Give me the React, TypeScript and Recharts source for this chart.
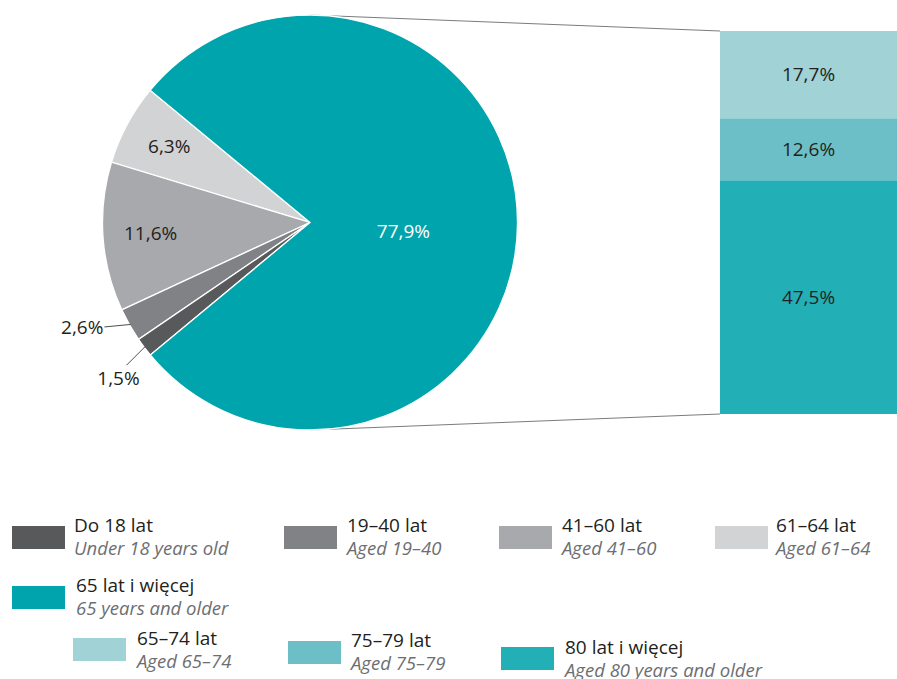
import React from 'react';
import { PieChart, Pie, Cell, BarChart, Bar, XAxis, YAxis, LabelList } from 'recharts';

// ---- data ----
const pieCategories = ['61–64 lat', '41–60 lat', '19–40 lat', 'Do 18 lat', '65 lat i więcej'];
const pieValues = [6.3, 11.6, 2.6, 1.5, 77.9];

const barCategories = ['80 lat i więcej', '75–79 lat', '65–74 lat'];
const barValues = [47.5, 12.6, 17.7];

const legendTitles = ['Do 18 lat', '19–40 lat', '41–60 lat', '61–64 lat', '65 lat i więcej', '65–74 lat', '75–79 lat', '80 lat i więcej'];
const legendSubtitles = ['Under 18 years old', 'Aged 19–40', 'Aged 41–60', 'Aged 61–64', '65 years and older', 'Aged 65–74', 'Aged 75–79', 'Aged 80 years and older'];

// ---- styles ----
const FONT = '"Open Sans", "Noto Sans", sans-serif';
const colorByName: Record<string, string> = {
  'Do 18 lat': '#58595B',
  '19–40 lat': '#808285',
  '41–60 lat': '#A7A9AC',
  '61–64 lat': '#D1D3D4',
  '65 lat i więcej': '#00A4AD',
  '65–74 lat': '#A0D2D6',
  '75–79 lat': '#6CBFC6',
  '80 lat i więcej': '#23AFB6',
};
const legendLayout = [
  { sx: 12, sy: 526, tx: 74, ty: 532 },
  { sx: 284, sy: 526, tx: 347, ty: 532 },
  { sx: 499, sy: 526, tx: 562, ty: 532 },
  { sx: 715, sy: 526, tx: 776, ty: 532 },
  { sx: 12, sy: 586, tx: 76, ty: 592 },
  { sx: 73, sy: 638, tx: 137, ty: 645 },
  { sx: 288, sy: 641, tx: 351, ty: 647 },
  { sx: 501, sy: 647, tx: 565, ty: 654 },
];

const PIE_CX = 310;
const PIE_CY = 222.5;
const PIE_R = 207.5;
const BAR_LEFT = 720;
const BAR_W = 177;
const CHART_H = 440;
const BAR_MARGIN = { top: 31, bottom: 26, left: 0, right: 0 };

const fmt = (v: number) => v.toFixed(1).replace('.', ',') + '%';

const pieData = pieCategories.map((name, i) => ({ name, value: pieValues[i] }));
const barRow: Record<string, any> = { name: '65+' };
barCategories.forEach((c, i) => { barRow['s' + i] = barValues[i]; });
const barData = [barRow];
const barTotal = barValues.reduce((a, b) => a + b, 0);

const RAD = Math.PI / 180;
const polar = (cx: number, cy: number, r: number, a: number) => ({ x: cx + r * Math.cos(-a * RAD), y: cy + r * Math.sin(-a * RAD) });

const renderPieLabel = (props: any) => {
  const { cx, cy, midAngle, outerRadius, index, value } = props;
  const text = fmt(value);
  const common = { fontFamily: FONT, fontSize: 19 };
  if (value > 50) {
    return (
      <text key={'l' + index} x={cx + outerRadius * 0.45} y={cy + 15} textAnchor="middle" fill="#FFFFFF" {...common}>{text}</text>
    );
  }
  if (value > 5) {
    const p = polar(cx, cy, outerRadius * 0.77, midAngle);
    return (
      <text key={'l' + index} x={p.x} y={p.y + 6.5} textAnchor="middle" fill="#231F20" {...common}>{text}</text>
    );
  }
  const a = polar(cx, cy, outerRadius - 1, midAngle);
  if (value > 2) {
    const e = { x: a.x - 26, y: a.y + 2.5 };
    return (
      <g key={'l' + index}>
        <line x1={a.x} y1={a.y} x2={e.x} y2={e.y} stroke="#231F20" strokeWidth={0.8} />
        <text x={e.x - 1} y={e.y + 7} textAnchor="end" fill="#231F20" {...common}>{text}</text>
      </g>
    );
  }
  const e = { x: a.x - 18.5, y: a.y + 18.5 };
  return (
    <g key={'l' + index}>
      <line x1={a.x} y1={a.y} x2={e.x} y2={e.y} stroke="#231F20" strokeWidth={0.8} />
      <text x={e.x - 8} y={e.y + 20} textAnchor="middle" fill="#231F20" {...common}>{text}</text>
    </g>
  );
};

const barLabel = (props: any) => {
  const { x, y, width, height, value } = props;
  return (
    <text x={x + width / 2} y={y + height / 2 + 6.7} textAnchor="middle" fill="#231F20" fontFamily={FONT} fontSize={19}>
      {fmt(value)}
    </text>
  );
};

export default function App() {
  const barTop = BAR_MARGIN.top;
  const barBottom = CHART_H - BAR_MARGIN.bottom;
  return (
    <div style={{ position: 'relative', width: 897, height: 679, background: '#fff', overflow: 'hidden' }}>
      <style>{'body{margin:0}'}</style>
      <svg width={897} height={CHART_H} style={{ position: 'absolute', left: 0, top: 0 }}>
        <line x1={PIE_CX} y1={PIE_CY - PIE_R} x2={BAR_LEFT} y2={barTop} stroke="#58595B" strokeWidth={0.8} />
        <line x1={PIE_CX} y1={PIE_CY + PIE_R} x2={BAR_LEFT} y2={barBottom} stroke="#58595B" strokeWidth={0.8} />
      </svg>
      <div style={{ position: 'absolute', left: 0, top: 0 }}>
        <PieChart width={720} height={CHART_H} margin={{ top: 0, right: 0, bottom: 0, left: 0 }}>
          <Pie
            data={pieData}
            dataKey="value"
            nameKey="name"
            cx={PIE_CX}
            cy={PIE_CY}
            outerRadius={PIE_R}
            startAngle={140.4}
            endAngle={500.4}
            stroke="#FFFFFF"
            strokeWidth={1.3}
            isAnimationActive={false}
            label={renderPieLabel}
            labelLine={false}
          >
            {pieData.map((d) => (
              <Cell key={d.name} fill={colorByName[d.name]} />
            ))}
          </Pie>
        </PieChart>
      </div>
      <div style={{ position: 'absolute', left: BAR_LEFT, top: 0 }}>
        <BarChart width={BAR_W} height={CHART_H} data={barData} margin={BAR_MARGIN} barCategoryGap={0}>
          <XAxis dataKey="name" hide />
          <YAxis type="number" domain={[0, barTotal]} hide />
          {barCategories.map((c, i) => (
            <Bar key={c} dataKey={'s' + i} stackId="a" fill={colorByName[c]} isAnimationActive={false}>
              <LabelList dataKey={'s' + i} content={barLabel} />
            </Bar>
          ))}
        </BarChart>
      </div>
      <svg width={897} height={679} style={{ position: 'absolute', left: 0, top: 0 }}>
        {legendTitles.map((t, i) => {
          const l = legendLayout[i];
          return (
            <g key={t}>
              <rect x={l.sx} y={l.sy} width={53} height={23} fill={colorByName[t]} />
              <text x={l.tx} y={l.ty} fill="#231F20" fontFamily={FONT} fontSize={19}>{t}</text>
              <text x={l.tx} y={l.ty + 23} fill="#6D6E71" fontFamily={FONT} fontSize={18.5} fontStyle="italic">{legendSubtitles[i]}</text>
            </g>
          );
        })}
      </svg>
    </div>
  );
}
